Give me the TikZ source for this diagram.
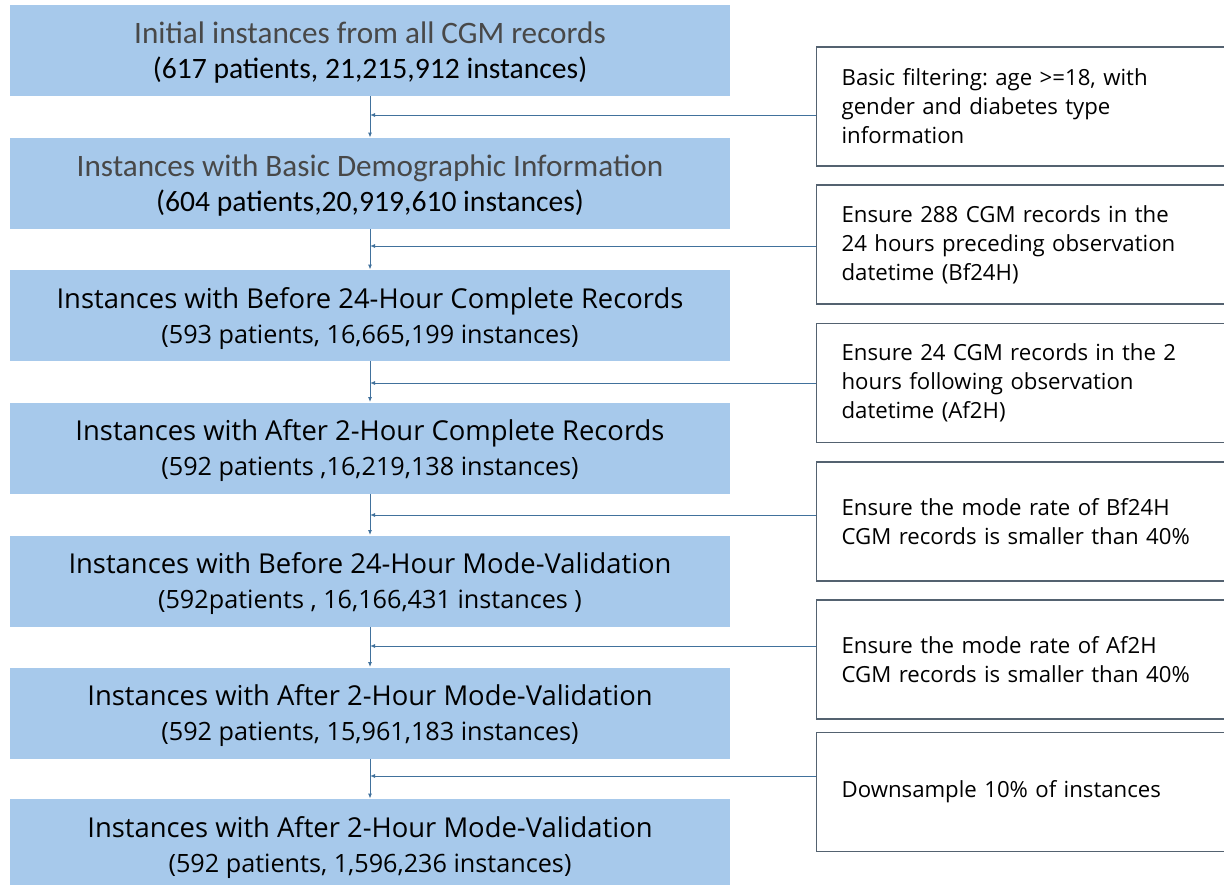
\documentclass[tikz,border=0pt]{standalone}
\usepackage{fontspec}
\setmainfont{Open Sans}
\newfontfamily\narrowfont{Carlito}
\usetikzlibrary{arrows.meta}
\definecolor{stagefill}{RGB}{167,201,235}
\definecolor{linkblue}{RGB}{65,113,156}
\definecolor{filtframe}{RGB}{84,98,112}
\definecolor{headgray}{RGB}{72,72,72}
\frenchspacing

\begin{document}
\begin{tikzpicture}[x=0.5pt, y=-0.5pt,
  stage/.style={fill=stagefill, align=center, minimum width=360pt,
    minimum height=45.5pt, inner sep=0pt, text depth=-0.5pt,
    font=\fontsize{12.6}{17.5}\selectfont},
  filt/.style={draw=filtframe, line width=0.6pt, fill=white, anchor=west,
    align=left, text width=190pt, minimum height=59.5pt, inner xsep=12.5pt,
    font=\fontsize{11.1}{14.5}\selectfont},
  flow/.style={draw=linkblue, line width=0.5pt, -{Latex[length=2.5pt,width=2pt]}}]
\clip (0,0) rectangle (1224,884);
\fill[white] (0,0) rectangle (1224,884);
\node[stage] (b1) at (370,50.5) {{\fontsize{15.6}{14}\narrowfont\color{headgray}Initial instances from all CGM records}\\ {\fontsize{14.8}{14}\narrowfont(617 patients, 21,215,912 instances)}};
\node[stage] (b2) at (370,183.5) {{\fontsize{15.6}{14}\narrowfont\color{headgray}Instances with Basic Demographic Information}\\ {\fontsize{14.8}{14}\narrowfont(604 patients,20,919,610 instances)}};
\node[stage] (b3) at (370,315.5) {{\fontsize{13.7}{14}\selectfont Instances with Before 24-Hour Complete Records}\\ (593 patients, 16,665,199 instances)};
\node[stage] (b4) at (370,448) {{\fontsize{13.7}{14}\selectfont Instances with After 2-Hour Complete Records}\\ (592 patients ,16,219,138 instances)};
\node[stage] (b5) at (370,581) {{\fontsize{13.7}{14}\selectfont Instances with Before 24-Hour Mode-Validation}\\ (592patients , 16,166,431 instances )};
\node[stage] (b6) at (370,713) {{\fontsize{13.7}{14}\selectfont Instances with After 2-Hour Mode-Validation}\\ (592 patients, 15,961,183 instances)};
\node[stage] (b7) at (370,844.5) {{\fontsize{13.7}{14}\selectfont Instances with After 2-Hour Mode-Validation}\\ (592 patients, 1,596,236 instances)};
\node[filt] (f1) at (816,106.5) {Basic filtering: age >=18, with\\ gender and diabetes type\\ information};
\node[filt] (f2) at (816,244.5) {Ensure 288 CGM records in the\\ 24 hours preceding observation\\ datetime (Bf24H)};
\node[filt] (f3) at (816,383) {Ensure 24 CGM records in the 2\\ hours following observation\\ datetime (Af2H)};
\node[filt] (f4) at (816,521.5) {Ensure the mode rate of Bf24H\\ CGM records is smaller than 40\%};
\node[filt] (f5) at (816,659.5) {Ensure the mode rate of Af2H\\ CGM records is smaller than 40\%};
\node[filt] (f6) at (816,792) {Downsample 10\% of instances};
\coordinate (j1) at (370,115);
\coordinate (j2) at (370,246);
\coordinate (j3) at (370,383);
\coordinate (j4) at (370,515);
\coordinate (j5) at (370,646);
\coordinate (j6) at (370,776);
\foreach \a/\b in {b1/b2,b2/b3,b3/b4,b4/b5,b5/b6,b6/b7}
  \draw[flow] (\a) -- (\b);
\foreach \i in {1,...,6}
  \draw[flow] (j\i -| f\i.west) -- (j\i);
\end{tikzpicture}
\end{document}
